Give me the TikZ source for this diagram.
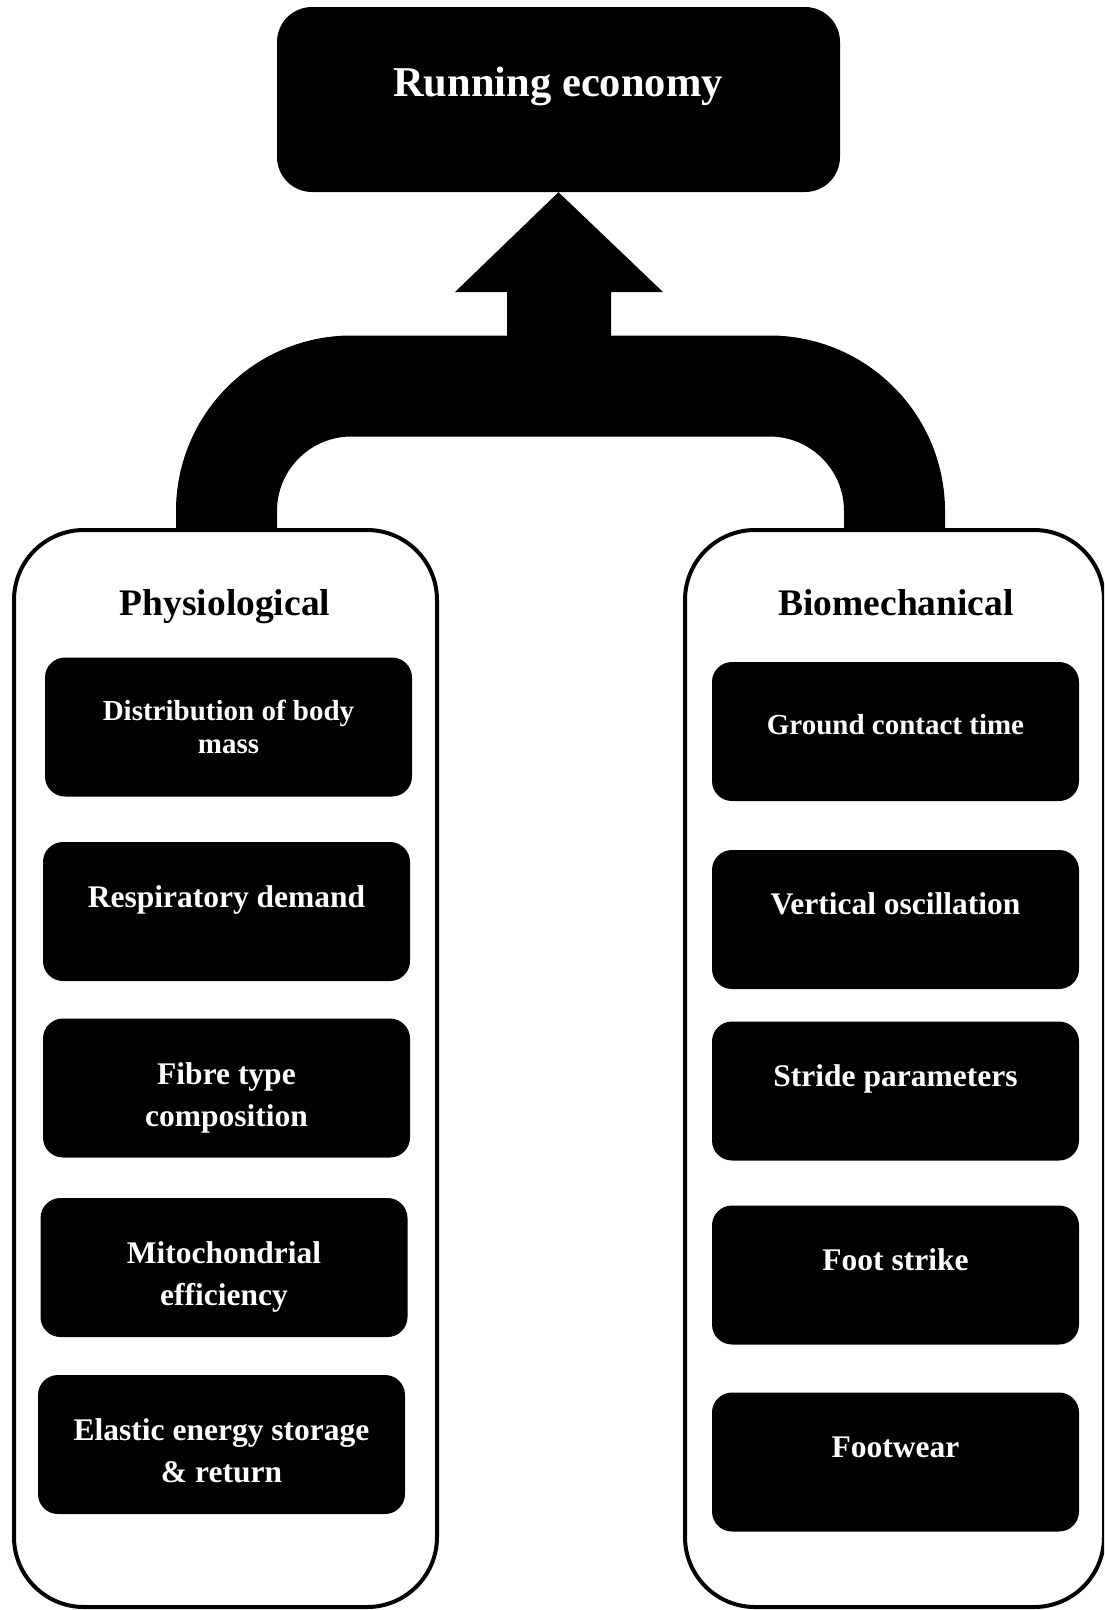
\documentclass[tikz,border=0pt]{standalone}
\usepackage{fontspec}
\setmainfont{Liberation Serif}
\begin{document}
\begin{tikzpicture}[x=1pt,y=-1pt,
  container/.style={draw=black, line width=4pt, rounded corners=70pt, inner sep=0pt},
  item/.style={fill=black, rounded corners=20pt, minimum width=367pt, minimum height=139pt, inner sep=0pt},
  itemtext/.style={text=white, align=center, inner sep=0pt, font=\bfseries\fontsize{31.5}{42}\selectfont},
  itemsmall/.style={text=white, align=center, inner sep=0pt, font=\bfseries\fontsize{29}{33}\selectfont},
  heading/.style={text=black, inner sep=0pt, font=\bfseries\fontsize{37.5}{44}\selectfont}]
\useasboundingbox (0,0) rectangle (1104,1610);
\clip (0,0) rectangle (1104,1610);

% arch connecting the two groups
\draw[line width=101pt, rounded corners=125pt] (226.5,529) -- (226.5,386) -- (894.5,386) -- (894.5,529);

% containers
\node[container, minimum width=423pt, minimum height=1077pt] (phys) at (225.5,1068.5) {};
\node[container, minimum width=419pt, minimum height=1077pt] (bio) at (894.5,1068.5) {};

% top box
\node[fill=black, rounded corners=35pt, minimum width=563pt, minimum height=185pt, inner sep=0pt] (top) at (558.5,99.5) {};
\node[text=white, inner sep=0pt, font=\bfseries\fontsize{42.5}{50}\selectfont] (toptext) at (558,86) {Running economy};

% block arrow up to the top box
\fill (507,340) -- (507,292) -- (455,292) -- (top.south) -- (663,292) -- (611,292) -- (611,340) -- cycle;

% headings
\node[heading] (physhead) at (225,607) {Physiological};
\node[heading] (biohead) at (896,603) {Biomechanical};

% left items
\node[item] (p1) at (228.5,727) {};
\node[item] (p2) at (226.5,911.5) {};
\node[item] (p3) at (226.5,1088) {};
\node[item] (p4) at (224,1267.5) {};
\node[item] (p5) at (221.5,1444.5) {};
\node[itemsmall] (p1t) at (228.5,727) {Distribution of body\\mass};
\node[itemtext] (p2t) at (226.5,900) {Respiratory demand};
\node[itemtext] (p3t) at (226.5,1098) {Fibre type\\composition};
\node[itemtext] (p4t) at (224,1277) {Mitochondrial\\efficiency};
\node[itemtext] (p5t) at (221.5,1451) {Elastic energy storage\\\& return};

% right items
\node[item] (b1) at (895.5,731.5) {};
\node[item] (b2) at (895.5,919.5) {};
\node[item] (b3) at (895.5,1091) {};
\node[item] (b4) at (895.5,1275) {};
\node[item] (b5) at (895.5,1462) {};
\node[itemsmall] (b1t) at (895.5,725) {Ground contact time};
\node[itemtext] (b2t) at (895.5,904) {Vertical oscillation};
\node[itemtext] (b3t) at (895.5,1079) {Stride parameters};
\node[itemtext] (b4t) at (895.5,1260) {Foot strike};
\node[itemtext] (b5t) at (895.5,1447) {Footwear};
\end{tikzpicture}
\end{document}
